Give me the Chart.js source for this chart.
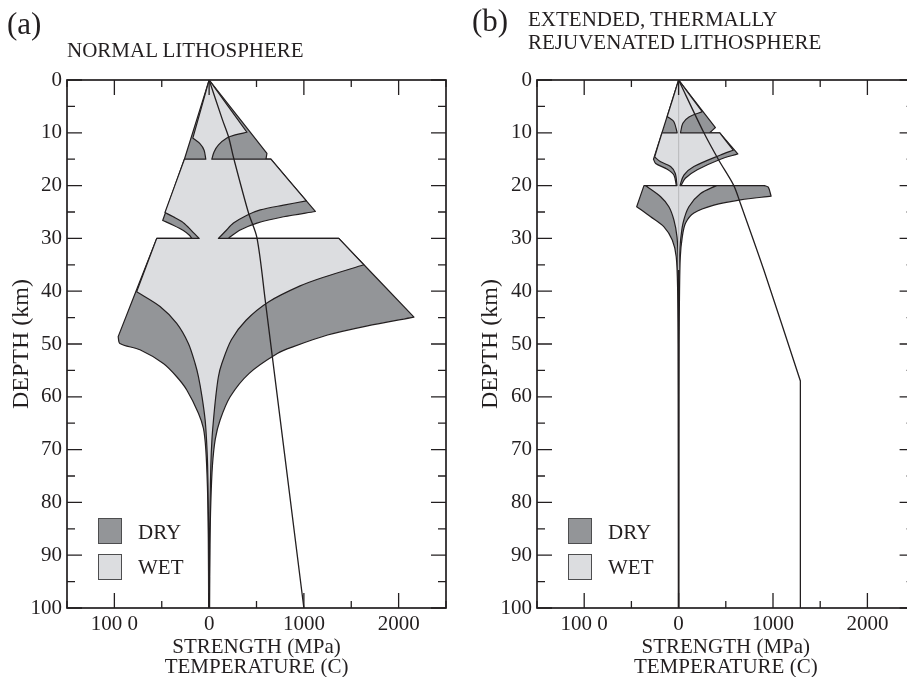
<!DOCTYPE html>
<html>
<head>
<meta charset="utf-8">
<script src="https://cdn.jsdelivr.net/npm/chart.js@4.4.1/dist/chart.umd.min.js"></script>
<style>
  html, body { margin: 0; padding: 0; background: #fff; overflow: hidden; }
  body { width: 907px; height: 677px; position: relative; font-family: "Liberation Serif", "Times New Roman", serif; color: #231f20; }
  canvas { position: absolute; top: 0; }
  .txt { position: absolute; white-space: pre; font-size: 21px; line-height: 21px; }
  .tag { font-size: 31px; line-height: 31px; }
  .key { position: absolute; width: 24px; height: 26px; box-sizing: border-box; border: 1.5px solid #4d4d4f; }
</style>
</head>
<body>
<canvas id="panelA" width="460" height="677" style="left:0"></canvas>
<canvas id="panelB" width="470" height="677" style="left:460px"></canvas>

<div class="txt tag" style="left:7px;top:8px">(a)</div>
<div class="txt" style="left:67px;top:40px">NORMAL LITHOSPHERE</div>
<div class="txt tag" style="left:472px;top:5px">(b)</div>
<div class="txt" style="left:528px;top:9px">EXTENDED, THERMALLY</div>
<div class="txt" style="left:528px;top:32px">REJUVENATED LITHOSPHERE</div>

<!-- keys -->
<div class="key" style="left:98px;top:518px;background:#939598"></div>
<div class="txt" style="left:138px;top:522px">DRY</div>
<div class="key" style="left:98px;top:554px;background:#dcdde0"></div>
<div class="txt" style="left:138px;top:557px">WET</div>
<div class="key" style="left:568px;top:518px;background:#939598"></div>
<div class="txt" style="left:608px;top:522px">DRY</div>
<div class="key" style="left:568px;top:554px;background:#dcdde0"></div>
<div class="txt" style="left:608px;top:557px">WET</div>

<script>
// axis ticks
const strengthTicks = [-1000, 0, 1000, 2000];
const strengthTickLabels = ["100 0", "0", "1000", "2000"];
const depthTicks = [0, 10, 20, 30, 40, 50, 60, 70, 80, 90, 100];

// (a) normal lithosphere - dry envelope outline (strength MPa, depth km)
const normDryStrength = [0, 610, 600, 652, 1121, 786, 505, 328, 222, 204, 1368, 2162, 1660, 1250, 890, 720, 420, 222, 116, 65, 35, 18, 9, 5,
  -5, -9, -18, -35, -60, -113, -236, -342, -483, -730, -942, -960, -553, -183, -208, -272, -378, -490, -261, 0];
const normDryDepth = [0, 13.9, 15, 15, 24.9, 25.9, 27.1, 28.4, 29.7, 30, 30, 44.9, 46.6, 48.3, 50.5, 51.8, 55.6, 60, 64.4, 68, 73, 80, 88, 100,
  100, 86, 77, 70, 66, 63.1, 58.7, 56.2, 53.7, 51.1, 49.9, 48.6, 30, 30, 29.4, 28.5, 27.5, 26.6, 15, 0];
const normDryCorners = [0, 1, 2, 3, 4, 9, 10, 11, 23, 24, 35, 36, 37, 41, 42, 43];

// (a) wet envelope outline
const normWetStrength = [0, 399, 275, 187, 99, 53, 28, 652, 1026, 786, 540, 399, 257, 169, 98, 1368, 1633, 1200, 960, 630, 390, 235, 134, 98,
  70, 46, 30, 18, 10, 5, 2, -2, -5, -9, -16, -28, -42, -75, -113, -148, -219, -342, -518, -765, -553, -105, -166, -219, -289, -378, -466,
  -261, -35, -53, -95, -172, 0];
const normWetDepth = [0, 9.9, 10.4, 11, 12.3, 13.6, 15, 15, 22.9, 23.7, 24.6, 25.6, 27.1, 28.7, 30, 30, 35, 37.4, 39, 42, 45.5, 49.2, 53.7, 56.2,
  60, 64.4, 68, 73, 80, 88, 100, 100, 88, 80, 73, 68, 64.4, 60, 56.2, 53.7, 49.9, 46.1, 42.9, 40.1, 30, 30, 28.9, 27.9, 26.8, 25.9, 25.1,
  15, 15, 13.3, 12.1, 11, 0];
const normWetCorners = [0, 1, 6, 7, 8, 14, 15, 16, 30, 31, 43, 44, 45, 50, 51, 52, 55, 56];

// (a) temperature (C)
const normTemp = [0, 140, 204, 262, 416, 505, 592, 1000];
const normTempDepth = [0, 7.5, 10.7, 15, 25.2, 29.9, 41.7, 100];
const normTempCorners = [0, 7];

// (b) extended, thermally rejuvenated lithosphere - dry envelope outline
const extDryStrength = [0, 390, 330, 436, 627, 444, 198, 71, 25, 910, 950, 980, 656, 374, 162, 74, 39, 18, 10, 5, 3, 2,
  -2, -3, -5, -10, -25, -67, -155, -296, -444, -367, -24, -50, -120, -243, -266, -176, 0];
const extDryDepth = [0, 9, 10, 10, 14, 15, 17, 18.6, 20, 20, 20.3, 22, 22.7, 23.7, 25.2, 27.1, 29.7, 33.5, 40, 50, 70, 100,
  100, 70, 50, 40, 33.5, 30.3, 27.8, 25.9, 24, 20, 20, 18, 16.9, 15.8, 15, 10, 0];
const extDryCorners = [0, 1, 2, 3, 4, 8, 9, 11, 21, 22, 30, 31, 32, 36, 37, 38];

// (b) wet envelope outline
const extWetStrength = [0, 250, 110, 45, 20, 436, 579, 444, 162, 56, 14, 400, 233, 109, 47, 18, 8, 4, 2, 1,
  -1, -2, -4, -6, -17, -50, -103, -190, -350, -17, -35, -85, -190, -254, -176, -15, -50, -120, 0];
const extWetDepth = [0, 6, 7, 8.2, 10, 10, 13.3, 14.2, 16.4, 18, 20, 20, 21.5, 24, 27.1, 30.9, 34.7, 40, 50, 100,
  100, 50, 40, 33.5, 29.7, 26.5, 24, 22.1, 20, 20, 17.7, 16.4, 15.5, 14.6, 10, 10, 7.9, 6.9, 0];
const extWetCorners = [0, 1, 4, 5, 6, 10, 11, 19, 20, 28, 29, 33, 34, 35, 37, 38];

// (b) zero-strength guide and temperature (C)
const extZeroStrength = [0, 0];
const extZeroDepth = [0, 36];
const extTemp = [0, 268, 426, 585, 655, 903, 1290, 1290];
const extTempDepth = [0, 10, 15.2, 20, 23.4, 36, 57, 100];
const extTempCorners = [0, 6, 7];

const INK = "#231f20";
const DRY = "#939598";
const WET = "#dcdde0";
const FONT = "'Liberation Serif', 'Times New Roman', serif";

// corner points are doubled so the smoothed outline keeps its sharp tips there
function pts(xs, ys, corners) {
  const out = [];
  xs.forEach((v, i) => {
    out.push({ x: v, y: ys[i] });
    if (corners && corners.includes(i)) out.push({ x: v, y: ys[i] });
  });
  return out;
}

function envelope(label, xs, ys, corners, colour, order) {
  return {
    label: label,
    data: pts(xs, ys, corners),
    borderColor: INK,
    borderWidth: 1.2,
    borderJoinStyle: "round",
    backgroundColor: colour,
    fill: "shape",
    pointRadius: 0,
    tension: 0.3,
    order: order
  };
}

function curve(label, xs, ys, corners, colour, width, order) {
  return {
    label: label,
    data: pts(xs, ys, corners),
    borderColor: colour,
    borderWidth: width,
    fill: false,
    pointRadius: 0,
    tension: 0.3,
    order: order
  };
}

// frame + inward tick marks on all four sides
const frameTicks = {
  id: "frameTicks",
  afterDatasetsDraw(chart) {
    const { ctx, chartArea: a, scales } = chart;
    const x = scales.x, y = scales.y;
    ctx.save();
    ctx.strokeStyle = INK;
    ctx.lineWidth = 1.3;
    ctx.beginPath();
    x.ticks.forEach(t => {
      const px = x.getPixelForValue(t.value);
      const len = t.value % 1000 === 0 ? 15 : 7;
      ctx.moveTo(px, a.bottom); ctx.lineTo(px, a.bottom - len);
      ctx.moveTo(px, a.top); ctx.lineTo(px, a.top + len);
    });
    y.ticks.forEach(t => {
      const py = y.getPixelForValue(t.value);
      const len = t.value % 10 === 0 ? 15 : 8;
      ctx.moveTo(a.left, py); ctx.lineTo(a.left + len, py);
      ctx.moveTo(a.right, py); ctx.lineTo(a.right - len, py);
    });
    ctx.stroke();
    ctx.lineWidth = 1.7;
    ctx.strokeRect(a.left, a.top, a.right - a.left, a.bottom - a.top);
    ctx.restore();
  }
};

function makePanel(id, datasets, axisWidth, rightPad, titlePad) {
  return new Chart(document.getElementById(id), {
    type: "line",
    data: { datasets: datasets },
    options: {
      responsive: false,
      animation: false,
      devicePixelRatio: 1,
      events: [],
      layout: { padding: { top: 80, right: rightPad, left: 0, bottom: 0 } },
      plugins: { legend: { display: false }, tooltip: { enabled: false } },
      scales: {
        x: {
          type: "linear",
          min: -1500,
          max: 2500,
          grid: { display: false, drawTicks: false },
          border: { display: false },
          ticks: {
            stepSize: 500,
            autoSkip: false,
            maxRotation: 0,
            padding: 4,
            color: INK,
            font: { family: FONT, size: 21 },
            callback: v => {
              const i = strengthTicks.indexOf(v);
              return i >= 0 ? strengthTickLabels[i] : "";
            }
          },
          title: {
            display: true,
            text: ["STRENGTH (MPa)", "TEMPERATURE (C)"],
            color: INK,
            font: { family: FONT, size: 21, lineHeight: 0.95 },
            padding: { top: 0, bottom: 0 }
          },
          afterFit: s => { s.height = 69; }
        },
        y: {
          type: "linear",
          reverse: true,
          min: 0,
          max: 100,
          grid: { display: false, drawTicks: false },
          border: { display: false },
          ticks: {
            stepSize: 5,
            autoSkip: false,
            padding: 5,
            color: INK,
            font: { family: FONT, size: 21 },
            callback: v => depthTicks.includes(v) ? String(v) : ""
          },
          title: {
            display: true,
            text: "DEPTH (km)",
            color: INK,
            font: { family: FONT, size: 24, lineHeight: 1.2 },
            padding: { top: titlePad, bottom: 0 }
          },
          afterFit: s => { s.width = axisWidth; }
        }
      }
    },
    plugins: [frameTicks]
  });
}

makePanel("panelA", [
  curve("Temperature", normTemp, normTempDepth, normTempCorners, INK, 1.3, 0),
  envelope("Wet", normWetStrength, normWetDepth, normWetCorners, WET, 2),
  envelope("Dry", normDryStrength, normDryDepth, normDryCorners, DRY, 3)
], 67, 14, 7.6);

makePanel("panelB", [
  curve("Temperature", extTemp, extTempDepth, extTempCorners, INK, 1.3, 0),
  curve("Zero", extZeroStrength, extZeroDepth, null, "#bdbec0", 1.2, 1),
  envelope("Wet", extWetStrength, extWetDepth, extWetCorners, WET, 2),
  envelope("Dry", extDryStrength, extDryDepth, extDryCorners, DRY, 3)
], 77, 15.4, 16.6);
</script>
</body>
</html>
